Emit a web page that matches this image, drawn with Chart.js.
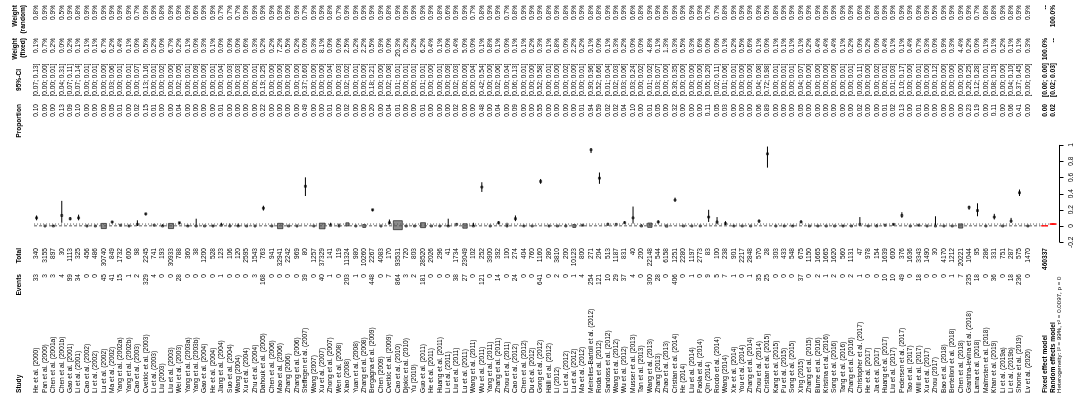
<!DOCTYPE html>
<html><head><meta charset="utf-8">
<script src="https://cdn.jsdelivr.net/npm/chart.js@4.4.1/dist/chart.umd.min.js"></script>
<style>html,body{margin:0;padding:0;background:#fff}#wrap{position:relative;width:1084px;height:398px}</style>
</head><body><div id="wrap"><canvas id="c" width="1084" height="398"></canvas></div>
<script>
const studies = [
"He et al. (2000)","Pan et al. (2000)","Chen et al. (2001a)","Chen et al. (2001b)","Gao et al. (2001)","Li et al. (2001)","Cao et al. (2002)","Li et al. (2002)","Lu et al. (2002)","Ma et al. (2002)",
"Yang et al. (2002a)","Yang et al. (2002b)","Cao et al. (2003)","Cvetkic et al. (2003)","Li et al. (2003)","Liu (2003)","Liu et al. (2003)","Wei et al. (2003)","Yang et al. (2003a)","Yang et al. (2003b)",
"Gao et al. (2004)","He et al. (2004)","Jiang et al. (2004)","Suo et al. (2004)","Wang (2004)","Xu et al. (2004)","Zhu et al. (2004)","Dahouk et al. (2005)","Chen et al. (2006)","Mao et al. (2006)",
"Zhang (2006)","Zhang et al. (2006)","Steffegen et al. (2007)","Wang (2007)","Xu et al. (2007)","Zhong et al. (2007)","Wen et al. (2008)","Xiao (2008)","Yuan et al. (2008)","Zhang et al. (2008)",
"Bergagna et al. (2009)","Chen (2009)","Cvetkic et al. (2009)","Cao et al. (2010)","Djokic et al. (2010)","Yu (2010)","Guo et al. (2011)","He et al. (2011)","Huang et al. (2011)","Li et al. (2011)",
"Liu et al. (2011)","Lu et al. (2011)","Wang et al. (2011)","Wu et al. (2011)","Yang et al. (2011)","Zhang et al. (2011)","Zhou et al. (2011)","Cao et al. (2012)","Chen et al. (2012)","Du et al. (2012)",
"Gong et al. (2012)","Hälli et al. (2012)","Li (2012)","Li et al. (2012)","Lu et al. (2012)","Ma et al. (2012)","Meirelles-Bartoli et al. (2012)","Roda et al. (2012)","Sandoss et al. (2012)","Wang et al. (2012)",
"Wu et al. (2012)","Musser et al. (2013)","Tan et al. (2013)","Wang et al. (2013)","Zhang (2013)","Zhao et al. (2013)","Cristian et al. (2014)","He (2014)","Liu et al. (2014)","Paola et al. (2014)",
"Qin (2014)","Rocdo et al. (2014)","Wang (2014)","Xie et al. (2014)","You et al. (2014)","Zhang et al. (2014)","Zhou et al. (2014)","Cristian et al. (2015)","Kang et al. (2015)","Pu et al. (2015)",
"Song et al. (2015)","Xing (2015)","Zhang et al. (2015)","Blume et al. (2016)","Kristina et al. (2016)","Song et al. (2016)","Tang et al. (2016)","Zhang et al. (2016)","Christopher et al. (2017)","He et al. (2017)",
"Jia et al. (2017)","Huang et al. (2017)","Liu et al. (2017)","Pedersen et al. (2017)","Tao et al. (2017)","Will et al. (2017)","Xu et al. (2017)","Zhou (2017)","Bao et al. (2018)","Bertelloni et al. (2018)",
"Chen et al. (2018)","Grantina-Ievina et al. (2018)","Lama et al. (2018)","Malmsten et al. (2018)","Khan et al. (2019)","Li et al. (2019a)","Li et al. (2019b)","Shome et al. (2019)","Lv et al. (2020)"
];
const events = [
33,3,3,4,99,34,0,0,45,41,15,1,2,329,4,0,0,28,0,0,
0,0,1,0,0,0,3,168,0,0,0,0,39,0,40,1,0,203,1,0,
448,0,7,864,3,2,181,0,0,0,38,27,0,121,0,14,0,24,0,0,
641,0,2,0,1,4,254,121,10,29,37,4,0,300,28,0,406,0,1,0,
9,5,7,1,0,1,35,25,0,0,0,37,0,2,1,2,0,2,1,0,
0,10,10,49,0,18,0,0,0,1,7,235,18,0,36,0,18,236,0];
const totals = [
340,3155,897,30,1113,325,456,486,30740,849,1732,600,98,2245,741,193,30933,788,360,38,
1200,528,123,106,120,2595,1543,763,941,32941,2242,969,80,1257,37329,141,119,11324,980,10260,
2267,4083,170,93531,720,803,28520,2026,296,41,1734,23049,102,252,3900,392,100,274,404,760,
1160,280,3810,200,10123,800,271,204,513,1187,831,40,200,22148,544,6158,1251,2280,1197,2773,
83,100,238,901,2217,2848,570,28,303,433,548,675,1150,1665,1665,1620,560,1131,47,978,
154,1639,600,376,1636,3343,1490,30,4170,1212,20221,1044,95,286,331,751,287,575,1470];
const proportion = [
0.10,0.00,0.00,0.13,0.09,0.10,0.00,0.00,0.00,0.05,0.01,0.00,0.02,0.15,0.01,0.00,0.00,0.04,0.00,0.00,
0.00,0.00,0.01,0.00,0.00,0.00,0.00,0.22,0.00,0.00,0.00,0.00,0.49,0.00,0.00,0.01,0.00,0.02,0.00,0.00,
0.20,0.00,0.04,0.01,0.00,0.00,0.01,0.00,0.00,0.00,0.02,0.00,0.00,0.48,0.00,0.04,0.00,0.09,0.00,0.00,
0.55,0.00,0.00,0.00,0.00,0.01,0.94,0.59,0.02,0.02,0.04,0.10,0.00,0.01,0.05,0.00,0.32,0.00,0.00,0.00,
0.11,0.05,0.03,0.00,0.00,0.00,0.06,0.89,0.00,0.00,0.00,0.05,0.00,0.00,0.00,0.00,0.00,0.00,0.02,0.00,
0.00,0.01,0.02,0.13,0.00,0.01,0.00,0.00,0.00,0.00,0.00,0.23,0.19,0.00,0.11,0.00,0.06,0.41,0.00];
const ciLower = [
0.07,0,0,0.04,0.07,0.07,0,0,0,0.03,0,0,0,0.13,0,0,0,0.02,0,0,
0,0,0,0,0,0,0,0.19,0,0,0,0,0.37,0,0,0,0,0.02,0,0,
0.18,0,0.02,0.01,0,0,0.01,0,0,0,0.02,0,0,0.42,0,0.02,0,0.06,0,0,
0.52,0,0,0,0,0,0.90,0.52,0.01,0.02,0.03,0.03,0,0.01,0.03,0,0.30,0,0,0,
0.05,0.02,0.01,0,0,0,0.04,0.72,0,0,0,0.04,0,0,0,0,0,0,0,0,
0,0,0.01,0.10,0,0,0,0,0,0,0,0.20,0.12,0,0.08,0,0.04,0.37,0];
const ciUpper = [
0.13,0.00,0.01,0.31,0.11,0.14,0.01,0.01,0.00,0.06,0.01,0.01,0.07,0.16,0.01,0.02,0.00,0.05,0.01,0.09,
0.00,0.01,0.04,0.03,0.03,0.00,0.01,0.25,0.00,0.00,0.00,0.00,0.60,0.00,0.00,0.04,0.03,0.02,0.01,0.00,
0.21,0.00,0.08,0.01,0.01,0.01,0.01,0.00,0.01,0.09,0.03,0.00,0.04,0.54,0.00,0.06,0.04,0.13,0.01,0.00,
0.58,0.01,0.00,0.02,0.00,0.01,0.96,0.66,0.04,0.03,0.06,0.24,0.02,0.02,0.07,0.00,0.35,0.00,0.00,0.00,
0.20,0.11,0.06,0.01,0.00,0.00,0.08,0.98,0.01,0.01,0.01,0.07,0.00,0.00,0.00,0.00,0.01,0.01,0.11,0.00,
0.02,0.01,0.03,0.17,0.00,0.01,0.00,0.12,0.00,0.00,0.00,0.25,0.28,0.01,0.15,0.00,0.10,0.45,0.00];
const weightFixed = [
0.1,0.7,0.2,0.0,0.2,0.1,0.1,0.1,6.7,0.2,0.4,0.1,0.0,0.5,0.2,0.0,6.7,0.2,0.1,0.0,
0.3,0.1,0.0,0.0,0.0,0.6,0.3,0.2,0.2,7.2,0.5,0.2,0.0,0.3,8.1,0.0,0.0,2.5,0.2,2.2,
0.5,0.9,0.0,20.3,0.2,0.2,6.2,0.4,0.1,0.0,0.4,5.0,0.0,0.1,0.8,0.1,0.0,0.1,0.1,0.2,
0.3,0.1,0.8,0.0,2.2,0.2,0.1,0.0,0.1,0.3,0.2,0.0,0.0,4.8,0.1,1.3,0.3,0.5,0.3,0.6,
0.0,0.0,0.1,0.2,0.5,0.6,0.1,0.0,0.1,0.1,0.1,0.1,0.2,0.4,0.4,0.4,0.1,0.2,0.0,0.2,
0.0,0.4,0.1,0.1,0.4,0.7,0.3,0.0,0.9,0.3,4.4,0.2,0.0,0.1,0.1,0.2,0.1,0.1,0.3];
const weightRandom = [
0.8,0.9,0.9,0.5,0.9,0.8,0.9,0.9,0.9,0.9,0.9,0.9,0.7,0.9,0.9,0.8,0.9,0.9,0.9,0.6,
0.9,0.9,0.7,0.7,0.7,0.9,0.9,0.9,0.9,0.9,0.9,0.9,0.7,0.9,0.9,0.8,0.7,0.9,0.9,0.9,
0.9,0.9,0.8,0.9,0.9,0.9,0.9,0.9,0.8,0.6,0.9,0.9,0.7,0.8,0.9,0.9,0.7,0.8,0.9,0.9,
0.9,0.8,0.9,0.8,0.9,0.9,0.8,0.8,0.9,0.9,0.9,0.6,0.8,0.9,0.9,0.9,0.9,0.9,0.9,0.9,
0.7,0.7,0.8,0.9,0.9,0.9,0.9,0.5,0.8,0.9,0.9,0.9,0.9,0.9,0.9,0.9,0.9,0.9,0.6,0.9,
0.8,0.9,0.9,0.9,0.9,0.9,0.9,0.5,0.9,0.9,0.9,0.9,0.7,0.8,0.8,0.9,0.8,0.9,0.9];
const axisTicks = [-0.2, 0, 0.2, 0.4, 0.6, 0.8, 1];
const axisTickLabels = ["-0.2", "0", "0.2", "0.4", "0.6", "0.8", "1"];
const fixedModel = {label: "Fixed effect model", total: "460337", est: 0.002, lo: 0.0018, hi: 0.0023, prop: "0.00", ci: "[0.00; 0.00]", wf: "100.0%", wr: "--"};
const randomModel = {label: "Random effects model", est: 0.024, lo: 0.018, hi: 0.030, prop: "0.02", ci: "[0.02; 0.03]", wf: "--", wr: "100.0%"};
const heterogeneity = "Heterogeneity: I\u00b2 = 99%, \u03c4\u00b2 = 0.0097, p = 0";

const POS_HEADER = -1.05, POS_FIXED = 121, POS_RANDOM = 122, POS_HET = 122.7, POS_AXIS = 122.7;
const FONT = "'Liberation Sans', Arial, Helvetica, sans-serif";
const FS = 6.6;

const ciData = [];
studies.forEach((s, i) => {
  ciData.push({x: i + 1, y: ciLower[i]}, {x: i + 1, y: ciUpper[i]}, {x: i + 1, y: null});
});
const boxData = studies.map((s, i) => ({x: i + 1, y: proportion[i]}));
const boxRadius = weightFixed.map(w => Math.max(2, 9 * Math.sqrt(w / 20.3)) / Math.SQRT2);

function diamond(pos, m) {
  const h = 0.4;
  return [{x: pos - h, y: m.est}, {x: pos, y: m.hi}, {x: pos + h, y: m.est}, {x: pos, y: m.lo}, {x: pos - h, y: m.est}];
}

function rtext(ctx, str, x, y, align, bold, size) {
  ctx.save();
  ctx.translate(x, y);
  ctx.rotate(-Math.PI / 2);
  ctx.textAlign = align;
  ctx.textBaseline = 'middle';
  ctx.font = (bold ? 'bold ' : '') + (size || FS) + 'px ' + FONT;
  ctx.fillStyle = '#000';
  ctx.fillText(str, 0, 0);
  ctx.restore();
}

const COL = {
  study: {y: 393}, events: {y: 274}, total: {y: 248}, prop: {y: 104}, ci: {y: 80}, wf: {y: 38}, wr: {y: 5}
};

const textPlugin = {
  id: 'forestText',
  afterDraw(chart) {
    const ctx = chart.ctx, xs = chart.scales.x, ys = chart.scales.y;
    const hx = xs.getPixelForValue(POS_HEADER);
    rtext(ctx, 'Study', hx, COL.study.y, 'left', true);
    rtext(ctx, 'Events', hx, COL.events.y, 'right', true);
    rtext(ctx, 'Total', hx, COL.total.y, 'right', true);
    rtext(ctx, 'Proportion', hx, COL.prop.y, 'right', true);
    rtext(ctx, '95%-CI', hx, COL.ci.y, 'center', true);
    rtext(ctx, 'Weight', hx - 4.2, COL.wf.y, 'right', true);
    rtext(ctx, '(fixed)', hx + 4.2, COL.wf.y, 'right', true);
    rtext(ctx, 'Weight', hx - 4.2, COL.wr.y, 'right', true);
    rtext(ctx, '(random)', hx + 4.2, COL.wr.y, 'right', true);
    studies.forEach((s, i) => {
      const x = xs.getPixelForValue(i + 1);
      rtext(ctx, s, x, COL.study.y, 'left', false);
      rtext(ctx, String(events[i]), x, COL.events.y, 'right', false);
      rtext(ctx, String(totals[i]), x, COL.total.y, 'right', false);
      rtext(ctx, proportion[i].toFixed(2), x, COL.prop.y, 'right', false);
      rtext(ctx, '[' + ciLower[i].toFixed(2) + '; ' + ciUpper[i].toFixed(2) + ']', x, COL.ci.y, 'center', false);
      rtext(ctx, weightFixed[i].toFixed(1) + '%', x, COL.wf.y, 'right', false);
      rtext(ctx, weightRandom[i].toFixed(1) + '%', x, COL.wr.y, 'right', false);
    });
    const fx = xs.getPixelForValue(POS_FIXED);
    rtext(ctx, fixedModel.label, fx, COL.study.y, 'left', true);
    rtext(ctx, fixedModel.total, fx, COL.total.y, 'right', true);
    rtext(ctx, fixedModel.prop, fx, COL.prop.y, 'right', true);
    rtext(ctx, fixedModel.ci, fx, COL.ci.y, 'center', true);
    rtext(ctx, fixedModel.wf, fx, COL.wf.y, 'right', true);
    rtext(ctx, fixedModel.wr, fx, COL.wr.y, 'right', true);
    const rx = xs.getPixelForValue(POS_RANDOM);
    rtext(ctx, randomModel.label, rx, COL.study.y, 'left', true);
    rtext(ctx, randomModel.prop, rx, COL.prop.y, 'right', true);
    rtext(ctx, randomModel.ci, rx, COL.ci.y, 'center', true);
    rtext(ctx, randomModel.wf, rx, COL.wf.y, 'right', true);
    rtext(ctx, randomModel.wr, rx, COL.wr.y, 'right', true);
    rtext(ctx, heterogeneity, xs.getPixelForValue(POS_HET), COL.study.y, 'left', false, 6.2);
    const ax = Math.round(xs.getPixelForValue(POS_AXIS)) + 0.5;
    const y0 = ys.getPixelForValue(axisTicks[0]), y1 = ys.getPixelForValue(axisTicks[axisTicks.length - 1]);
    ctx.save();
    ctx.strokeStyle = '#000'; ctx.lineWidth = 1;
    ctx.beginPath(); ctx.moveTo(ax, y0); ctx.lineTo(ax, y1);
    axisTicks.forEach(t => { const ty = Math.round(ys.getPixelForValue(t)) + 0.5; ctx.moveTo(ax, ty); ctx.lineTo(ax + 4, ty); });
    ctx.stroke();
    ctx.restore();
    axisTicks.forEach((t, k) => rtext(ctx, axisTickLabels[k], ax + 12, ys.getPixelForValue(t), 'center', false, 6.6));
  }
};

new Chart(document.getElementById('c'), {
  type: 'scatter',
  data: {
    datasets: [
      {type: 'line', data: [{x: 0.7, y: fixedModel.est}, {x: POS_FIXED - 0.5, y: fixedModel.est}], borderColor: '#555', borderWidth: 1, borderDash: [3, 2], pointRadius: 0, fill: false},
      {type: 'line', data: [{x: 0.7, y: randomModel.est}, {x: POS_RANDOM - 0.5, y: randomModel.est}], borderColor: '#555', borderWidth: 1, borderDash: [1, 2], pointRadius: 0, fill: false},
      {type: 'line', data: ciData, borderColor: '#000', borderWidth: 1, pointRadius: 0, spanGaps: false, fill: false},
      {type: 'scatter', data: boxData, pointStyle: 'rect', pointRadius: boxRadius, backgroundColor: '#8c8c8c', borderColor: '#000', borderWidth: 0.6},
      {type: 'line', data: diamond(POS_FIXED, fixedModel), borderColor: '#ff0000', backgroundColor: '#ff0000', borderWidth: 1, pointRadius: 0, fill: 'shape'},
      {type: 'line', data: diamond(POS_RANDOM, randomModel), borderColor: '#ff0000', backgroundColor: '#ff0000', borderWidth: 1, pointRadius: 0, fill: 'shape'}
    ]
  },
  options: {
    responsive: false, animation: false, devicePixelRatio: 1,
    layout: {padding: 0},
    plugins: {legend: {display: false}, tooltip: {enabled: false}},
    scales: {
      x: {type: 'linear', display: false, min: -2.525, max: 124.85},
      y: {type: 'linear', display: false, min: -2.036, max: 2.702}
    }
  },
  plugins: [textPlugin]
});
</script></body></html>
